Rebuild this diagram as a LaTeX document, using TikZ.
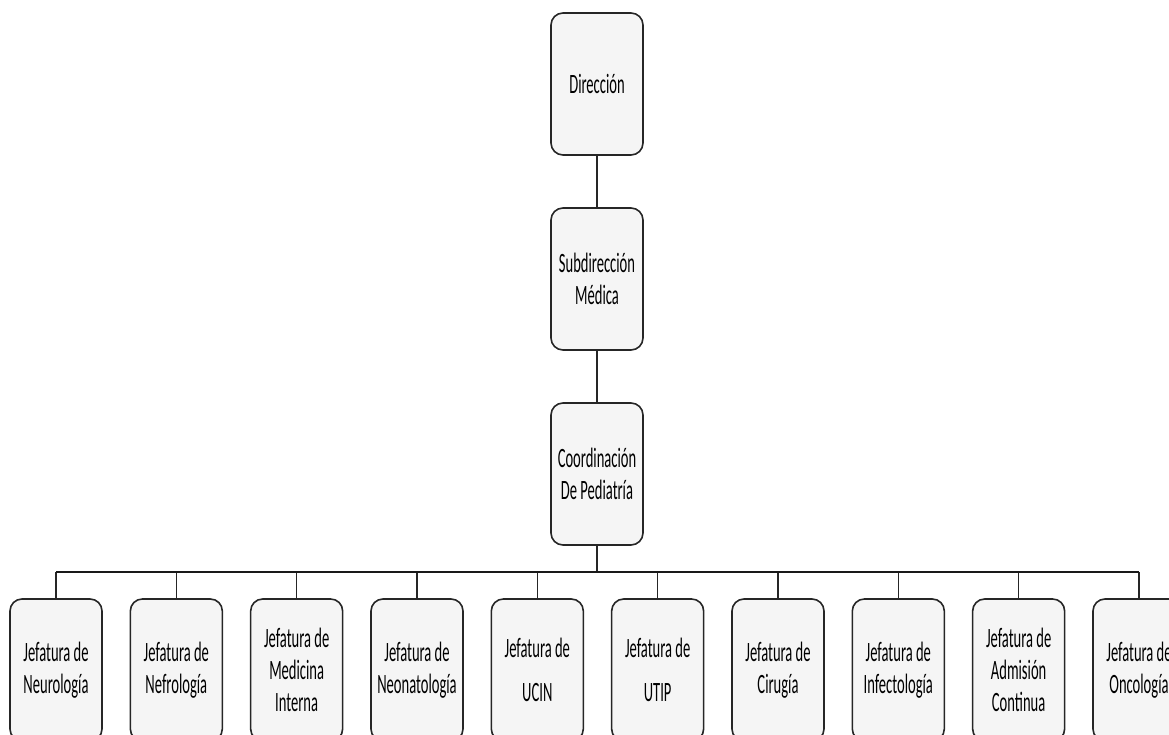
\documentclass[tikz,border=0pt]{standalone}
\usepackage{fontspec}
\setmainfont{Carlito}[FakeStretch=0.52]
\begin{document}
\begin{tikzpicture}[x=1pt,y=-1pt,
  box/.style={draw=black!85, line width=1.6pt, fill=black!4, rounded corners=12pt,
    minimum width=92pt, minimum height=142pt, align=center, inner sep=0pt,
    font=\fontsize{28}{32}\selectfont},
  conn/.style={draw=black!85, line width=1.6pt},
  bar/.style={draw=black!90, line width=2.2pt}]
\clip (0,0) rectangle (1169,735);
\node[box] (dir) at (597,84) {Dirección};
\node[box] (sub) at (597,279) {Subdirección\\Médica};
\node[box] (coo) at (597,474) {Coordinación\\De Pediatría};
\draw[conn] (dir.south) -- (sub.north);
\draw[conn] (sub.south) -- (coo.north);
\coordinate (bar) at (597,572);
\draw[conn] (coo.south) -- (bar);
\foreach \i/\t [count=\k] in {0/{Jefatura de\\Neurología},1/{Jefatura de\\Nefrología},2/{Jefatura de\\Medicina\\Interna},3/{Jefatura de\\Neonatología},4/{Jefatura de\\[12pt]UCIN},5/{Jefatura de\\[12pt]UTIP},6/{Jefatura de\\Cirugía},7/{Jefatura de\\Infectología},8/{Jefatura de\\Admisión\\Continua},9/{Jefatura de\\Oncología}}{
  \node[box] (j\k) at ({56+120.33*\i},670) {\t};
  \draw[conn] (j\k.north) -- (j\k.north |- bar);
}
\draw[bar] (j1.north |- bar) -- (j10.north |- bar);
\end{tikzpicture}
\end{document}
